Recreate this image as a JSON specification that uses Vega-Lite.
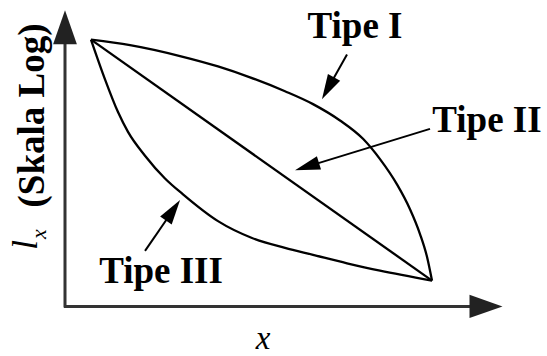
{
  "$schema": "https://vega.github.io/schema/vega-lite/v6.json",
  "width": 547,
  "height": 356,
  "autosize": {"type": "fit", "contains": "padding"},
  "padding": 0,
  "background": "white",
  "view": {"stroke": null},
  "datasets": {
    "curves": [
      {"curve": "Tipe I", "x": 26, "y": 269},
      {"curve": "Tipe I", "x": 65, "y": 263.5},
      {"curve": "Tipe I", "x": 115, "y": 252.5},
      {"curve": "Tipe I", "x": 153, "y": 242},
      {"curve": "Tipe I", "x": 185, "y": 231},
      {"curve": "Tipe I", "x": 220, "y": 217},
      {"curve": "Tipe I", "x": 248, "y": 204},
      {"curve": "Tipe I", "x": 275, "y": 187.5},
      {"curve": "Tipe I", "x": 298, "y": 169},
      {"curve": "Tipe I", "x": 315, "y": 148.5},
      {"curve": "Tipe I", "x": 332, "y": 123},
      {"curve": "Tipe I", "x": 345, "y": 98},
      {"curve": "Tipe I", "x": 355, "y": 73},
      {"curve": "Tipe I", "x": 362, "y": 50},
      {"curve": "Tipe I", "x": 367, "y": 26},
      {"curve": "Tipe II", "x": 26, "y": 269},
      {"curve": "Tipe II", "x": 367, "y": 26},
      {"curve": "Tipe III", "x": 26, "y": 269},
      {"curve": "Tipe III", "x": 40, "y": 229},
      {"curve": "Tipe III", "x": 53, "y": 196},
      {"curve": "Tipe III", "x": 63, "y": 176},
      {"curve": "Tipe III", "x": 80, "y": 152},
      {"curve": "Tipe III", "x": 100, "y": 129},
      {"curve": "Tipe III", "x": 118, "y": 113},
      {"curve": "Tipe III", "x": 153, "y": 86},
      {"curve": "Tipe III", "x": 187, "y": 69},
      {"curve": "Tipe III", "x": 220, "y": 59},
      {"curve": "Tipe III", "x": 248, "y": 52},
      {"curve": "Tipe III", "x": 282, "y": 43.5},
      {"curve": "Tipe III", "x": 315, "y": 36},
      {"curve": "Tipe III", "x": 367, "y": 26}
    ],
    "axes": [
      {"axis": "y", "x": 0, "y": -1, "x2": 0, "y2": 270},
      {"axis": "x", "x": -1, "y": 0, "x2": 410, "y2": 0}
    ],
    "shafts": [
      {"label": "Tipe I", "x": 282, "y": 254, "x2": 263, "y2": 220},
      {"label": "Tipe II", "x": 365, "y": 179, "x2": 242, "y2": 141},
      {"label": "Tipe III", "x": 80, "y": 56, "x2": 108, "y2": 97}
    ],
    "labels": [
      {"label": "Tipe I", "x": 290, "y": 271},
      {"label": "Tipe II", "x": 422, "y": 176},
      {"label": "Tipe III", "x": 96, "y": 24}
    ]
  },
  "layer": [
    {
      "data": {"name": "axes"},
      "mark": {"type": "rule", "color": "#333333", "strokeWidth": 3},
      "encoding": {
        "x": {"field": "x", "type": "quantitative", "scale": {"domain": [-65, 482], "nice": false, "zero": false}, "axis": null},
        "y": {"field": "y", "type": "quantitative", "scale": {"domain": [-47, 309], "nice": false, "zero": false}, "axis": null},
        "x2": {"field": "x2"},
        "y2": {"field": "y2"}
      }
    },
    {
      "data": {"values": [{"x": 0, "y": 281.5}]},
      "mark": {"type": "point", "shape": "M0,-1L-0.7,1L0.7,1Z", "size": 1156, "angle": 0, "filled": true, "color": "#222222", "opacity": 1, "strokeWidth": 0},
      "encoding": {
        "x": {"field": "x", "type": "quantitative", "scale": {"domain": [-65, 482], "nice": false, "zero": false}, "axis": null},
        "y": {"field": "y", "type": "quantitative", "scale": {"domain": [-47, 309], "nice": false, "zero": false}, "axis": null}
      }
    },
    {
      "data": {"values": [{"x": 421, "y": 0}]},
      "mark": {"type": "point", "shape": "M0,-1L-0.7,1L0.7,1Z", "size": 1089, "angle": 90, "filled": true, "color": "#222222", "opacity": 1, "strokeWidth": 0},
      "encoding": {
        "x": {"field": "x", "type": "quantitative", "scale": {"domain": [-65, 482], "nice": false, "zero": false}, "axis": null},
        "y": {"field": "y", "type": "quantitative", "scale": {"domain": [-47, 309], "nice": false, "zero": false}, "axis": null}
      }
    },
    {
      "data": {"name": "curves"},
      "mark": {"type": "line", "color": "black", "strokeWidth": 2.3, "interpolate": "monotone"},
      "encoding": {
        "x": {"field": "x", "type": "quantitative", "scale": {"domain": [-65, 482], "nice": false, "zero": false}, "axis": null},
        "y": {"field": "y", "type": "quantitative", "scale": {"domain": [-47, 309], "nice": false, "zero": false}, "axis": null},
        "detail": {"field": "curve"}
      }
    },
    {
      "data": {"name": "shafts"},
      "mark": {"type": "rule", "color": "black", "strokeWidth": 2},
      "encoding": {
        "x": {"field": "x", "type": "quantitative", "scale": {"domain": [-65, 482], "nice": false, "zero": false}, "axis": null},
        "y": {"field": "y", "type": "quantitative", "scale": {"domain": [-47, 309], "nice": false, "zero": false}, "axis": null},
        "x2": {"field": "x2"},
        "y2": {"field": "y2"}
      }
    },
    {
      "data": {"values": [{"x": 263, "y": 220}]},
      "mark": {"type": "point", "shape": "M0,-1L-0.56,1L0.56,1Z", "size": 625, "angle": 209, "filled": true, "color": "black", "opacity": 1, "strokeWidth": 0},
      "encoding": {
        "x": {"field": "x", "type": "quantitative", "scale": {"domain": [-65, 482], "nice": false, "zero": false}, "axis": null},
        "y": {"field": "y", "type": "quantitative", "scale": {"domain": [-47, 309], "nice": false, "zero": false}, "axis": null}
      }
    },
    {
      "data": {"values": [{"x": 242, "y": 141}]},
      "mark": {"type": "point", "shape": "M0,-1L-0.56,1L0.56,1Z", "size": 625, "angle": 253, "filled": true, "color": "black", "opacity": 1, "strokeWidth": 0},
      "encoding": {
        "x": {"field": "x", "type": "quantitative", "scale": {"domain": [-65, 482], "nice": false, "zero": false}, "axis": null},
        "y": {"field": "y", "type": "quantitative", "scale": {"domain": [-47, 309], "nice": false, "zero": false}, "axis": null}
      }
    },
    {
      "data": {"values": [{"x": 108, "y": 97}]},
      "mark": {"type": "point", "shape": "M0,-1L-0.56,1L0.56,1Z", "size": 625, "angle": 34.5, "filled": true, "color": "black", "opacity": 1, "strokeWidth": 0},
      "encoding": {
        "x": {"field": "x", "type": "quantitative", "scale": {"domain": [-65, 482], "nice": false, "zero": false}, "axis": null},
        "y": {"field": "y", "type": "quantitative", "scale": {"domain": [-47, 309], "nice": false, "zero": false}, "axis": null}
      }
    },
    {
      "data": {"name": "labels"},
      "mark": {"type": "text", "font": "Liberation Serif", "fontWeight": "bold", "fontSize": 37, "align": "center", "baseline": "alphabetic", "color": "black"},
      "encoding": {
        "x": {"field": "x", "type": "quantitative", "scale": {"domain": [-65, 482], "nice": false, "zero": false}, "axis": null},
        "y": {"field": "y", "type": "quantitative", "scale": {"domain": [-47, 309], "nice": false, "zero": false}, "axis": null},
        "text": {"field": "label"}
      }
    },
    {
      "data": {"values": [{"t": "(Skala Log)", "x": -21, "y": 192.5}]},
      "mark": {"type": "text", "font": "Liberation Serif", "fontWeight": "bold", "fontSize": 37, "angle": 270, "align": "center", "baseline": "alphabetic", "color": "black"},
      "encoding": {
        "x": {"field": "x", "type": "quantitative", "scale": {"domain": [-65, 482], "nice": false, "zero": false}, "axis": null},
        "y": {"field": "y", "type": "quantitative", "scale": {"domain": [-47, 309], "nice": false, "zero": false}, "axis": null},
        "text": {"field": "t"}
      }
    },
    {
      "data": {"values": [{"t": "l", "x": -28, "y": 62}]},
      "mark": {"type": "text", "font": "Liberation Serif", "fontStyle": "italic", "fontSize": 35, "angle": 270, "align": "center", "baseline": "alphabetic", "color": "black"},
      "encoding": {
        "x": {"field": "x", "type": "quantitative", "scale": {"domain": [-65, 482], "nice": false, "zero": false}, "axis": null},
        "y": {"field": "y", "type": "quantitative", "scale": {"domain": [-47, 309], "nice": false, "zero": false}, "axis": null},
        "text": {"field": "t"}
      }
    },
    {
      "data": {"values": [{"t": "x", "x": -19, "y": 73}]},
      "mark": {"type": "text", "font": "Liberation Serif", "fontStyle": "italic", "fontSize": 22, "angle": 270, "align": "center", "baseline": "alphabetic", "color": "black"},
      "encoding": {
        "x": {"field": "x", "type": "quantitative", "scale": {"domain": [-65, 482], "nice": false, "zero": false}, "axis": null},
        "y": {"field": "y", "type": "quantitative", "scale": {"domain": [-47, 309], "nice": false, "zero": false}, "axis": null},
        "text": {"field": "t"}
      }
    },
    {
      "data": {"values": [{"t": "x", "x": 198, "y": -43}]},
      "mark": {"type": "text", "font": "Liberation Serif", "fontStyle": "italic", "fontSize": 33, "align": "center", "baseline": "alphabetic", "color": "black"},
      "encoding": {
        "x": {"field": "x", "type": "quantitative", "scale": {"domain": [-65, 482], "nice": false, "zero": false}, "axis": null},
        "y": {"field": "y", "type": "quantitative", "scale": {"domain": [-47, 309], "nice": false, "zero": false}, "axis": null},
        "text": {"field": "t"}
      }
    }
  ]
}
